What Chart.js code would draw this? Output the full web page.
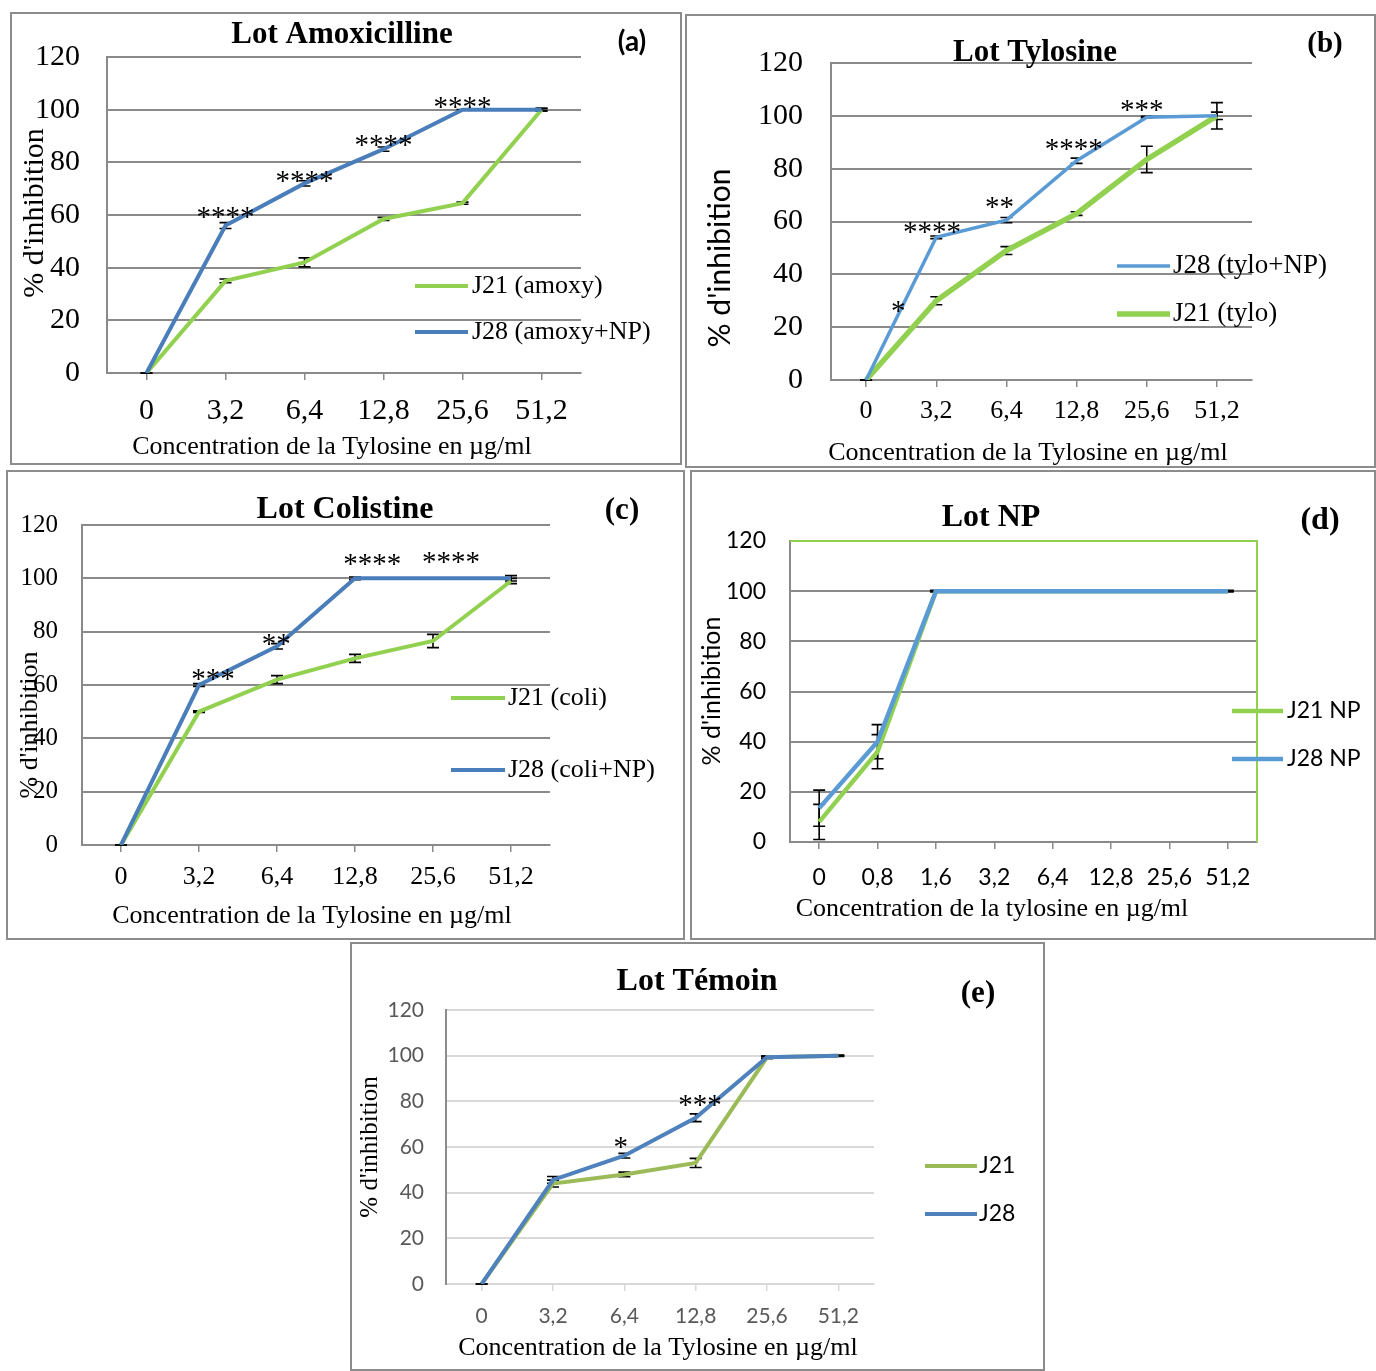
<!DOCTYPE html>
<html>
<head>
<meta charset="utf-8">
<script src="https://cdn.jsdelivr.net/npm/chart.js@4.4.1/dist/chart.umd.min.js"></script>
<style>
  body { margin: 0; background: #fff; }
  #page { position: relative; width: 1376px; height: 1371px; overflow: hidden; }
  .frame { position: absolute; box-sizing: border-box; border: 2px solid #8c8c8c; pointer-events: none; }
  canvas { position: absolute; }
</style>
</head>
<body>
<div id="page"></div>
<script>
// categories (µg/ml)
const catsStd = ['0', '3,2', '6,4', '12,8', '25,6', '51,2'];
const catsNP = ['0', '0,8', '1,6', '3,2', '6,4', '12,8', '25,6', '51,2'];
const yMax = 120;
const yStep = 20;

// (a) Lot Amoxicilline
const amoxJ21 = [0, 35, 42, 58.5, 64.5, 100];
const amoxJ21Err = [0, 0.7, 1.7, 0.6, 0.4, 0.5];
const amoxJ28 = [0, 56, 72, 85, 100, 100];
const amoxJ28Err = [0, 1.1, 1, 0.8, 0, 0.5];
const amoxStarX = [1, 2, 3, 4];
const amoxStarY = [61, 74.5, 88.4, 102.7];
const amoxStarText = ['****', '****', '****', '****'];

// (b) Lot Tylosine
const tyloJ28 = [0, 54, 60.5, 83, 99.5, 100];
const tyloJ28Err = [0, 0.5, 1, 1, 0.3, 1.4];
const tyloJ21 = [0, 30, 49, 63, 83.5, 100];
const tyloJ21Err = [0, 1.5, 1.5, 0.7, 5, 5];
const tyloStarX = [0.46, 0.94, 1.9, 2.96, 3.93];
const tyloStarY = [27.6, 57.5, 67, 89, 104];
const tyloStarText = ['*', '****', '**', '****', '***'];

// (c) Lot Colistine
const coliJ21 = [0, 50, 62, 70, 76.5, 99];
const coliJ21Err = [0, 0.3, 1.5, 1.5, 2.5, 1];
const coliJ28 = [0, 60, 74.5, 100, 100, 100];
const coliJ28Err = [0, 0.5, 1, 0.5, 0.2, 1];
const coliStarX = [1.18, 1.99, 3.22, 4.23];
const coliStarY = [63.7, 77, 107, 107.6];
const coliStarText = ['***', '**', '****', '****'];

// (d) Lot NP
const npJ21 = [8, 36, 100, 100, 100, 100, 100, 100];
const npJ21Err = [7, 6.8, 0, 0, 0, 0, 0, 0];
const npJ28 = [13.5, 40, 100, 100, 100, 100, 100, 100];
const npJ28Err = [7.2, 6.8, 0.3, 0, 0, 0, 0, 0.3];

// (e) Lot Témoin
const temJ21 = [0, 44, 48, 53, 99.3, 100];
const temJ21Err = [0, 1.5, 1, 2, 0.5, 0];
const temJ28 = [0, 45.6, 56.2, 72.8, 99.3, 100];
const temJ28Err = [0, 1.5, 1, 1.7, 0.5, 0.3];
const temStarX = [1.95, 3.06];
const temStarY = [61.7, 80.2];
const temStarText = ['*', '***'];

const SERIF = '"Liberation Serif", "Times New Roman", serif';
const SANS = 'Lato, "Liberation Sans", sans-serif';
const XTITLE = 'Concentration de la Tylosine en µg/ml';
const YTITLE = "% d'inhibition";

// error bars drawn under the lines, like Excel
const errorBars = {
  id: 'errorBars',
  beforeDatasetsDraw(chart) {
    const { ctx, scales: { x, y } } = chart;
    ctx.save();
    ctx.strokeStyle = '#000';
    ctx.lineWidth = 1.6;
    chart.data.datasets.forEach(ds => {
      if (!ds.err) return;
      ds.data.forEach((v, i) => {
        const e = ds.err[i];
        if (e == null) return;
        const px = x.getPixelForValue(i);
        const top = y.getPixelForValue(v + e);
        const bot = y.getPixelForValue(v - e);
        ctx.beginPath();
        ctx.moveTo(px, top); ctx.lineTo(px, bot);
        ctx.moveTo(px - 6, top); ctx.lineTo(px + 6, top);
        ctx.moveTo(px - 6, bot); ctx.lineTo(px + 6, bot);
        ctx.stroke();
      });
    });
    ctx.restore();
  }
};

function addPanel(p) {
  const page = document.getElementById('page');
  const cv = document.createElement('canvas');
  cv.width = p.box.w; cv.height = p.box.h;
  cv.style.left = p.box.x + 'px'; cv.style.top = p.box.y + 'px';
  cv.style.width = p.box.w + 'px'; cv.style.height = p.box.h + 'px';
  page.appendChild(cv);
  const fr = document.createElement('div');
  fr.className = 'frame';
  fr.style.left = p.box.x + 'px'; fr.style.top = p.box.y + 'px';
  fr.style.width = p.box.w + 'px'; fr.style.height = p.box.h + 'px';
  page.appendChild(fr);

  const L = p.plot.l - p.box.x, T = p.plot.t - p.box.y;
  const R = p.plot.r - p.box.x, B = p.plot.b - p.box.y;
  const ox = p.box.x, oy = p.box.y;

  const decor = {
    id: 'decor',
    beforeDatasetsDraw(chart) {
      if (!p.plotBorder) return;
      const { ctx, chartArea: a } = chart;
      ctx.save();
      ctx.strokeStyle = p.plotBorder;
      ctx.lineWidth = 2;
      ctx.beginPath();
      ctx.moveTo(a.left, a.top); ctx.lineTo(a.right, a.top); ctx.lineTo(a.right, a.bottom);
      ctx.stroke();
      ctx.restore();
    },
    afterDraw(chart) {
      const { ctx, scales: { x, y } } = chart;
      ctx.save();
      ctx.fillStyle = '#000';
      ctx.textBaseline = 'middle';
      // texts: title, panel letter, axis titles
      p.texts.forEach(t => {
        ctx.save();
        ctx.font = t.font;
        ctx.fillStyle = t.color || '#000';
        ctx.textAlign = 'center';
        ctx.translate(t.x - ox, t.y - oy);
        if (t.rot) ctx.rotate(-Math.PI / 2);
        ctx.fillText(t.text, 0, 0);
        ctx.restore();
      });
      // legend
      p.legend.items.forEach(it => {
        const yy = it.y - oy;
        ctx.strokeStyle = it.color;
        ctx.lineWidth = it.width;
        ctx.beginPath();
        ctx.moveTo(p.legend.x0 - ox, yy); ctx.lineTo(p.legend.x1 - ox, yy);
        ctx.stroke();
        ctx.font = p.legend.font;
        ctx.fillStyle = '#000';
        ctx.textAlign = 'left';
        ctx.fillText(it.text, p.legend.tx - ox, yy);
      });
      // significance stars
      if (p.stars) {
        ctx.font = p.stars.font;
        ctx.textAlign = 'center';
        ctx.textBaseline = 'alphabetic';
        p.stars.xs.forEach((sx, i) => {
          const px = x.getPixelForValue(sx);
          const py = y.getPixelForValue(p.stars.ys[i]);
          ctx.fillText(p.stars.texts[i], px, py + p.stars.size * 0.46);
        });
      }
      ctx.restore();
    }
  };

  new Chart(cv.getContext('2d'), {
    type: 'line',
    data: {
      labels: p.cats,
      datasets: p.series.map((s, i) => ({
        label: s.label,
        data: s.data,
        err: s.err,
        borderColor: s.color,
        borderWidth: s.width,
        pointRadius: 0,
        tension: 0,
        fill: false,
        order: s.order
      }))
    },
    options: {
      responsive: false,
      animation: false,
      devicePixelRatio: 1,
      layout: { padding: { left: 0, top: T, right: p.box.w - R, bottom: 0 } },
      plugins: { legend: { display: false }, tooltip: { enabled: false } },
      scales: {
        x: {
          type: 'category',
          offset: true,
          afterFit: s => { s.height = p.box.h - B; },
          grid: { display: true, drawOnChartArea: false, drawTicks: true, tickLength: 7, offset: false, color: p.xAxisColor, lineWidth: 1.5 },
          border: { display: true, color: p.xAxisColor, width: 2 },
          ticks: { font: p.xTickFont, color: p.tickColor, padding: p.xTickPad, maxRotation: 0, autoSkip: false }
        },
        y: {
          min: 0,
          max: yMax,
          afterFit: s => { s.width = L; },
          grid: { color: p.gridColor, lineWidth: 2, drawTicks: false },
          border: { display: true, color: p.yAxisColor, width: 2 },
          ticks: { stepSize: yStep, font: p.yTickFont, color: p.tickColor, padding: p.yTickPad }
        }
      }
    },
    plugins: [errorBars, decor]
  });
}

const GREEN = '#92D050';
const BLUE = '#4A7EBB';
const LBLUE = '#5B9BD5';
const GRID = '#8a8a8a';
const STAR = '29px ' + SERIF;

// (a)
addPanel({
  box: { x: 10, y: 12, w: 672, h: 453 },
  plot: { l: 107, t: 54, r: 581, b: 373 },
  cats: catsStd,
  series: [
    { label: 'J28 (amoxy+NP)', data: amoxJ28, err: amoxJ28Err, color: BLUE, width: 4, order: 0 },
    { label: 'J21 (amoxy)', data: amoxJ21, err: amoxJ21Err, color: GREEN, width: 4, order: 1 }
  ],
  gridColor: GRID, xAxisColor: GRID, yAxisColor: GRID, tickColor: '#000',
  yTickFont: { family: SERIF, size: 30 }, yTickPad: 27,
  xTickFont: { family: SERIF, size: 30 }, xTickPad: 13,
  texts: [
    { text: 'Lot Amoxicilline', x: 342, y: 35, font: 'bold 31px ' + SERIF },
    { text: '(a)', x: 632, y: 42, font: 'bold 28px ' + SANS },
    { text: XTITLE, x: 332, y: 447, font: '26px ' + SERIF },
    { text: YTITLE, x: 35, y: 213, font: '30px ' + SERIF, rot: true }
  ],
  legend: { x0: 415, x1: 468, tx: 472, font: '26px ' + SERIF, items: [
    { text: 'J21 (amoxy)', y: 286, color: GREEN, width: 4 },
    { text: 'J28 (amoxy+NP)', y: 332, color: BLUE, width: 4 }
  ] },
  stars: { xs: amoxStarX, ys: amoxStarY, texts: amoxStarText, font: STAR, size: 29 }
});

// (b)
addPanel({
  box: { x: 685, y: 14, w: 691, h: 454 },
  plot: { l: 831, t: 63, r: 1252, b: 380 },
  cats: catsStd,
  series: [
    { label: 'J28 (tylo+NP)', data: tyloJ28, err: tyloJ28Err, color: LBLUE, width: 3.5, order: 0 },
    { label: 'J21 (tylo)', data: tyloJ21, err: tyloJ21Err, color: GREEN, width: 5.5, order: 1 }
  ],
  gridColor: GRID, xAxisColor: GRID, yAxisColor: GRID, tickColor: '#000',
  yTickFont: { family: SERIF, size: 30 }, yTickPad: 28,
  xTickFont: { family: SERIF, size: 26 }, xTickPad: 9,
  texts: [
    { text: 'Lot Tylosine', x: 1035, y: 53, font: 'bold 31px ' + SERIF },
    { text: '(b)', x: 1325, y: 45, font: 'bold 29px ' + SERIF },
    { text: XTITLE, x: 1028, y: 453, font: '26px ' + SERIF },
    { text: YTITLE, x: 720, y: 258, font: '30px ' + SANS, rot: true }
  ],
  legend: { x0: 1117, x1: 1170, tx: 1173, font: '27px ' + SERIF, items: [
    { text: 'J28 (tylo+NP)', y: 266, color: LBLUE, width: 3.5 },
    { text: 'J21 (tylo)', y: 314, color: GREEN, width: 5.5 }
  ] },
  stars: { xs: tyloStarX, ys: tyloStarY, texts: tyloStarText, font: STAR, size: 29 }
});

// (c)
addPanel({
  box: { x: 6, y: 470, w: 679, h: 470 },
  plot: { l: 82, t: 525, r: 550, b: 845 },
  cats: catsStd,
  series: [
    { label: 'J28 (coli+NP)', data: coliJ28, err: coliJ28Err, color: BLUE, width: 4, order: 0 },
    { label: 'J21 (coli)', data: coliJ21, err: coliJ21Err, color: GREEN, width: 4, order: 1 }
  ],
  gridColor: GRID, xAxisColor: GRID, yAxisColor: GRID, tickColor: '#000',
  yTickFont: { family: SERIF, size: 25 }, yTickPad: 24,
  xTickFont: { family: SERIF, size: 26 }, xTickPad: 10,
  texts: [
    { text: 'Lot Colistine', x: 345, y: 510, font: 'bold 32px ' + SERIF },
    { text: '(c)', x: 622, y: 511, font: 'bold 31px ' + SERIF },
    { text: XTITLE, x: 312, y: 916, font: '26px ' + SERIF },
    { text: YTITLE, x: 30, y: 725, font: '26px ' + SERIF, rot: true }
  ],
  legend: { x0: 451, x1: 505, tx: 508, font: '26px ' + SERIF, items: [
    { text: 'J21 (coli)', y: 698, color: GREEN, width: 4 },
    { text: 'J28 (coli+NP)', y: 770, color: BLUE, width: 4 }
  ] },
  stars: { xs: coliStarX, ys: coliStarY, texts: coliStarText, font: STAR, size: 29 }
});

// (d)
addPanel({
  box: { x: 690, y: 470, w: 686, h: 470 },
  plot: { l: 790, t: 541, r: 1257, b: 842 },
  cats: catsNP,
  series: [
    { label: 'J28 NP', data: npJ28, err: npJ28Err, color: LBLUE, width: 4.5, order: 0 },
    { label: 'J21 NP', data: npJ21, err: npJ21Err, color: GREEN, width: 4.5, order: 1 }
  ],
  plotBorder: GREEN,
  gridColor: GRID, xAxisColor: GRID, yAxisColor: GRID, tickColor: '#000',
  yTickFont: { family: SANS, size: 23 }, yTickPad: 24,
  xTickFont: { family: SANS, size: 23 }, xTickPad: 15,
  texts: [
    { text: 'Lot NP', x: 991, y: 518, font: 'bold 32px ' + SERIF },
    { text: '(d)', x: 1320, y: 521, font: 'bold 32px ' + SERIF },
    { text: 'Concentration de la tylosine en µg/ml', x: 992, y: 909, font: '26px ' + SERIF },
    { text: YTITLE, x: 712, y: 691, font: '25px ' + SANS, rot: true }
  ],
  legend: { x0: 1232, x1: 1283, tx: 1287, font: '23px ' + SANS, items: [
    { text: 'J21 NP', y: 711, color: GREEN, width: 4.5 },
    { text: 'J28 NP', y: 759, color: LBLUE, width: 4.5 }
  ] }
});

// (e)
addPanel({
  box: { x: 350, y: 942, w: 695, h: 429 },
  plot: { l: 446, t: 1010, r: 874, b: 1284 },
  cats: catsStd,
  series: [
    { label: 'J28', data: temJ28, err: temJ28Err, color: '#4F81BD', width: 4, order: 0 },
    { label: 'J21', data: temJ21, err: temJ21Err, color: '#9BBB59', width: 4, order: 1 }
  ],
  gridColor: '#D9D9D9', xAxisColor: '#D9D9D9', yAxisColor: '#8c8c8c', tickColor: '#595959',
  yTickFont: { family: SANS, size: 21 }, yTickPad: 22,
  xTickFont: { family: SANS, size: 21 }, xTickPad: 13,
  texts: [
    { text: 'Lot Témoin', x: 697, y: 982, font: 'bold 32px ' + SERIF },
    { text: '(e)', x: 978, y: 994, font: 'bold 31px ' + SERIF },
    { text: XTITLE, x: 658, y: 1348, font: '26px ' + SERIF },
    { text: YTITLE, x: 370, y: 1147, font: '25px ' + SERIF, rot: true }
  ],
  legend: { x0: 925, x1: 977, tx: 979, font: '23px ' + SANS, items: [
    { text: 'J21', y: 1166, color: '#9BBB59', width: 4 },
    { text: 'J28', y: 1214, color: '#4F81BD', width: 4 }
  ] },
  stars: { xs: temStarX, ys: temStarY, texts: temStarText, font: STAR, size: 29 }
});
</script>
</body>
</html>
